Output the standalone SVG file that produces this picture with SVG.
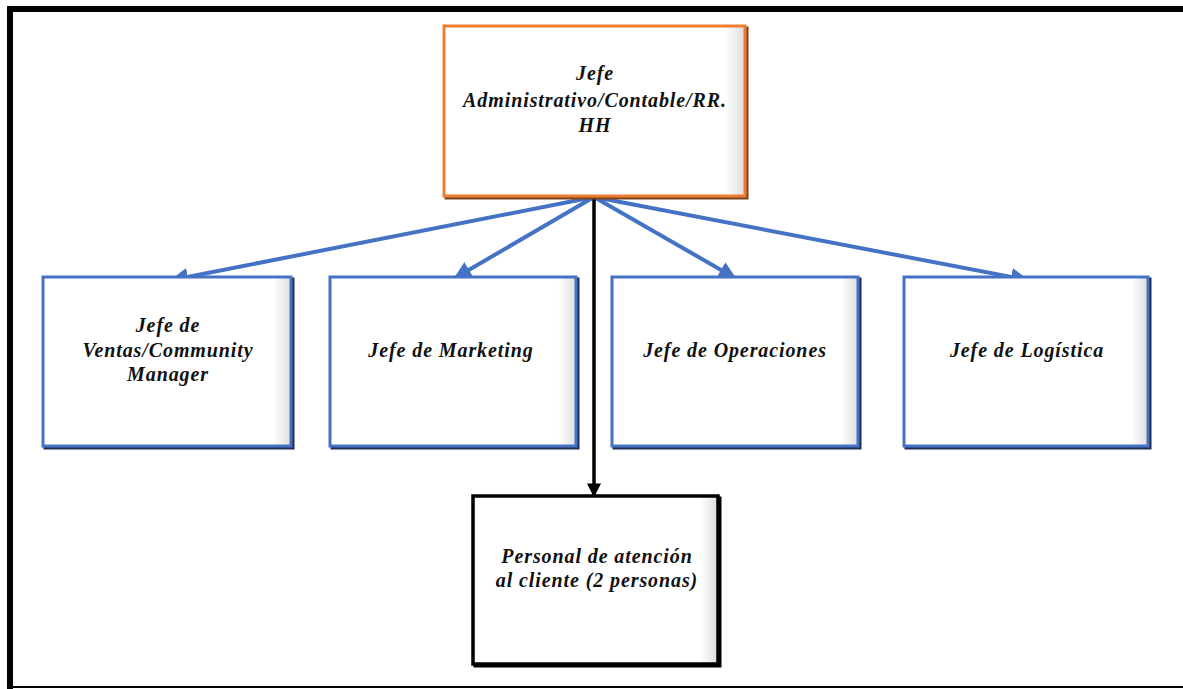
<svg xmlns="http://www.w3.org/2000/svg" width="1183" height="689" viewBox="0 0 1183 689">
<style>
.t{font-family:"Liberation Serif","Times New Roman",serif;font-style:italic;font-weight:bold;font-size:20px;letter-spacing:0.9px;fill:#111;text-anchor:middle}
.bx{fill:#fff;stroke:#4472C4;stroke-width:3}
.bsh{fill:none;stroke:#1F2F55;stroke-width:3}
.blue{stroke:#4472C4;stroke-width:4;fill:none}
</style>
<defs>
<marker id="ab" viewBox="0 0 10 10" refX="9" refY="5" markerWidth="4.5" markerHeight="4.5" orient="auto" markerUnits="strokeWidth">
<path d="M0,0 L10,5 L0,10 Z" fill="#4472C4"/>
</marker>
<marker id="ak" viewBox="0 0 10 10" refX="9" refY="5" markerWidth="4" markerHeight="4" orient="auto" markerUnits="strokeWidth">
<path d="M0,0 L10,5 L0,10 Z" fill="#000"/>
</marker>
<linearGradient id="gr" x1="0" y1="0" x2="1" y2="0">
<stop offset="0.93" stop-color="#fff"/><stop offset="1" stop-color="#ddd"/>
</linearGradient>
</defs>
<rect x="0" y="0" width="1183" height="689" fill="#fff"/>
<path d="M10,689 L10,9 L1183,9" fill="none" stroke="#000" stroke-width="6"/>
<line x1="10" y1="687" x2="1183" y2="687" stroke="#000" stroke-width="2"/>

<g id="connectors">
<line class="blue" x1="594" y1="197" x2="172" y2="280" marker-end="url(#ab)"/>
<line class="blue" x1="594" y1="197" x2="455" y2="278" marker-end="url(#ab)"/>
<line class="blue" x1="594" y1="197" x2="735" y2="278" marker-end="url(#ab)"/>
<line class="blue" x1="594" y1="197" x2="1027" y2="280" marker-end="url(#ab)"/>
<line x1="594" y1="199" x2="594" y2="496" stroke="#000" stroke-width="3.5" marker-end="url(#ak)"/>
</g>

<g id="n-admin">
<rect x="446" y="28" width="301" height="170" fill="none" stroke="#7A4420" stroke-width="3"/>
<rect x="444" y="26" width="301" height="170" fill="url(#gr)" stroke="#ED7D31" stroke-width="3"/>
<text class="t" x="595" y="80">Jefe</text>
<text class="t" x="595" y="107">Administrativo/Contable/RR.</text>
<text class="t" x="595" y="132">HH</text>
</g>

<g id="n-ventas">
<rect class="bsh" x="45" y="279" width="248" height="169"/>
<rect class="bx" x="43" y="277" width="248" height="169" style="fill:url(#gr)"/>
<text class="t" x="168" y="332">Jefe de</text>
<text class="t" x="168" y="357">Ventas/Community</text>
<text class="t" x="168" y="381">Manager</text>
</g>

<g id="n-marketing">
<rect class="bsh" x="332" y="279" width="246" height="169"/>
<rect class="bx" x="330" y="277" width="246" height="169" style="fill:url(#gr)"/>
<text class="t" x="451" y="357">Jefe de Marketing</text>
</g>

<g id="n-operaciones">
<rect class="bsh" x="614" y="279" width="246" height="169"/>
<rect class="bx" x="612" y="277" width="246" height="169" style="fill:url(#gr)"/>
<text class="t" x="735" y="357">Jefe de Operaciones</text>
</g>

<g id="n-logistica">
<rect class="bsh" x="906" y="279" width="244" height="169"/>
<rect class="bx" x="904" y="277" width="244" height="169" style="fill:url(#gr)"/>
<text class="t" x="1027" y="357">Jefe de Logística</text>
</g>

<g id="n-personal">
<rect x="475" y="498" width="245" height="168" fill="none" stroke="#000" stroke-width="3"/>
<rect x="473" y="496" width="245" height="168" fill="url(#gr)" stroke="#000" stroke-width="3.5"/>
<text class="t" x="597" y="563">Personal de atención</text>
<text class="t" x="597" y="587">al cliente (2 personas)</text>
</g>
</svg>
